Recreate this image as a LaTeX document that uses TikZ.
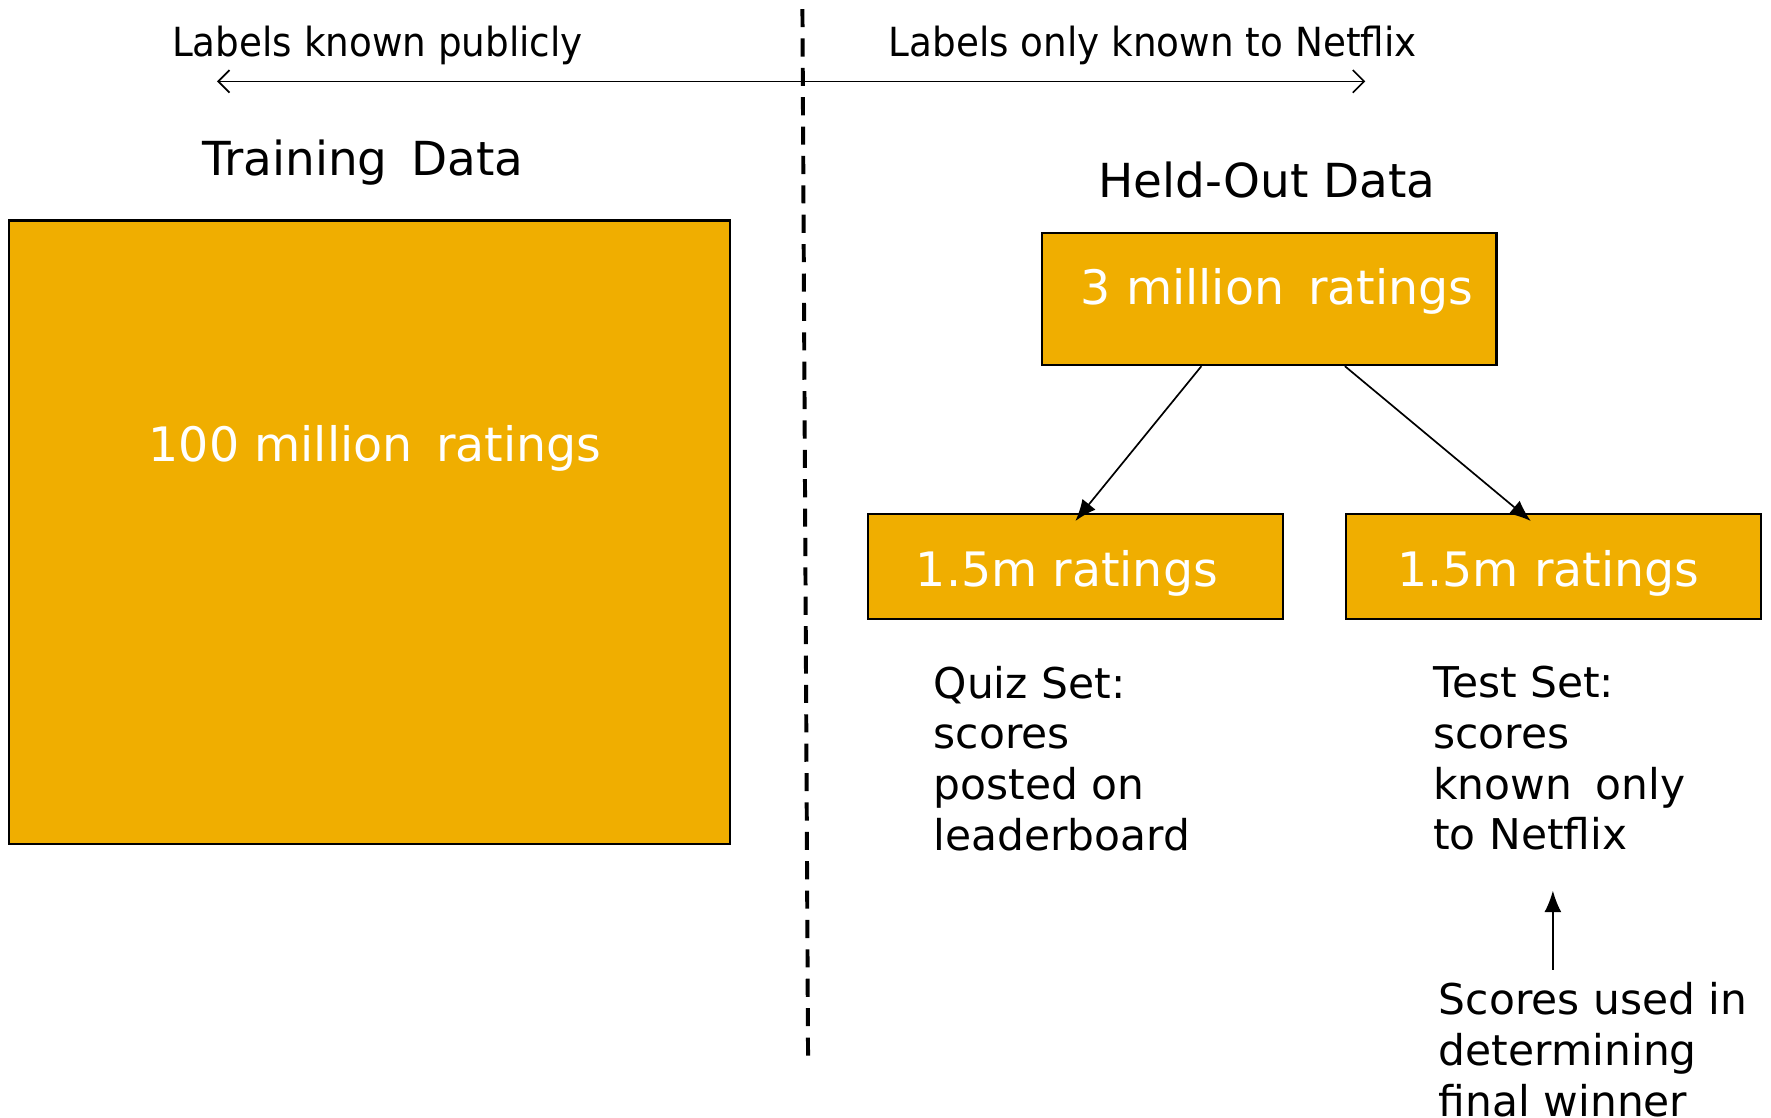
\documentclass[tikz,border=0pt]{standalone}
\usepackage{fontspec}
\setmainfont{DejaVu Sans}
\newfontfamily\condfont{DejaVu Sans}[FakeStretch=0.93]
\usetikzlibrary{arrows.meta}
\definecolor{boxorange}{RGB}{240,174,0}
\newcommand{\wsp}{\hspace{21pt}}
\tikzset{
  databox/.style={draw=black, line width=2pt, fill=boxorange, inner sep=0pt},
  boxtext/.style={text=white, font=\fontsize{42}{48}\selectfont},
  headtext/.style={font=\fontsize{41.5}{48}\selectfont},
  toplabel/.style={font=\condfont\fontsize{35.5}{42}\selectfont},
  notetext/.style={font=\fontsize{37.5}{45}\selectfont, align=left, anchor=north west, inner sep=0pt},
  splitarrow/.style={line width=1.5pt, -{Latex[length=19pt,width=15pt]}},
}
\begin{document}
\begin{tikzpicture}[x=1pt,y=-1pt]
\useasboundingbox (0,0) rectangle (1567,989);
% top labels and double arrow
\node[toplabel] (lpub) at (334,40) {Labels known publicly};
\node[toplabel] (lnet) at (1020,40) {Labels only known to Netflix};
\coordinate (al) at (192,72);
\coordinate (ar) at (1208,72);
\draw[line width=1.5pt, {Straight Barb[length=10pt,width=20pt]}-{Straight Barb[length=10pt,width=20pt]}] (al) -- (ar);
% dashed divider
\coordinate (dtop) at (710,8);
\coordinate (dbot) at (715,940);
\draw[line width=3.5pt, dash pattern=on 16pt off 10pt] (dtop) -- (dbot);
% headings
\node[headtext] (train) at (321,144) {Training\wsp Data};
\node[headtext] (held) at (1121,159) {Held-Out Data};
% boxes
\node[databox, minimum width=638pt, minimum height=552pt] (big) at (327,471) {};
\node[boxtext] (bigt) at (332,397) {100 million\wsp ratings};
\node[databox, minimum width=402pt, minimum height=117pt] (m3) at (1123,264.5) {};
\node[boxtext] (m3t) at (1130,258) {3 million\wsp ratings};
\node[databox, minimum width=367pt, minimum height=93pt] (quiz) at (951.5,501.5) {};
\node[databox, minimum width=367pt, minimum height=93pt] (test) at (1374.5,501.5) {};
\node[boxtext] (quizt) at (944,507) {1.5m ratings};
\node[boxtext] (testt) at (1370,507) {1.5m ratings};
% split arrows
\draw[splitarrow] ([xshift=-60pt]m3.south) -- ([yshift=-7pt]quiz.north);
\draw[splitarrow] ([xshift=67pt]m3.south) -- ([xshift=-20pt,yshift=-7pt]test.north);
% notes
\node[notetext] (quizn) at (826,589) {Quiz Set:\\scores\\posted on\\leaderboard};
\node[notetext] (testn) at (1268,589) {Test Set:\\scores\\known\wsp only\\to Netflix};
\node[notetext] (final) at (1273,869) {Scores used in\\determining\\final winner};
\coordinate (upstart) at (1374,858);
\coordinate (upend) at (1374,788);
\draw[splitarrow] (upstart) -- (upend);
\end{tikzpicture}
\end{document}
